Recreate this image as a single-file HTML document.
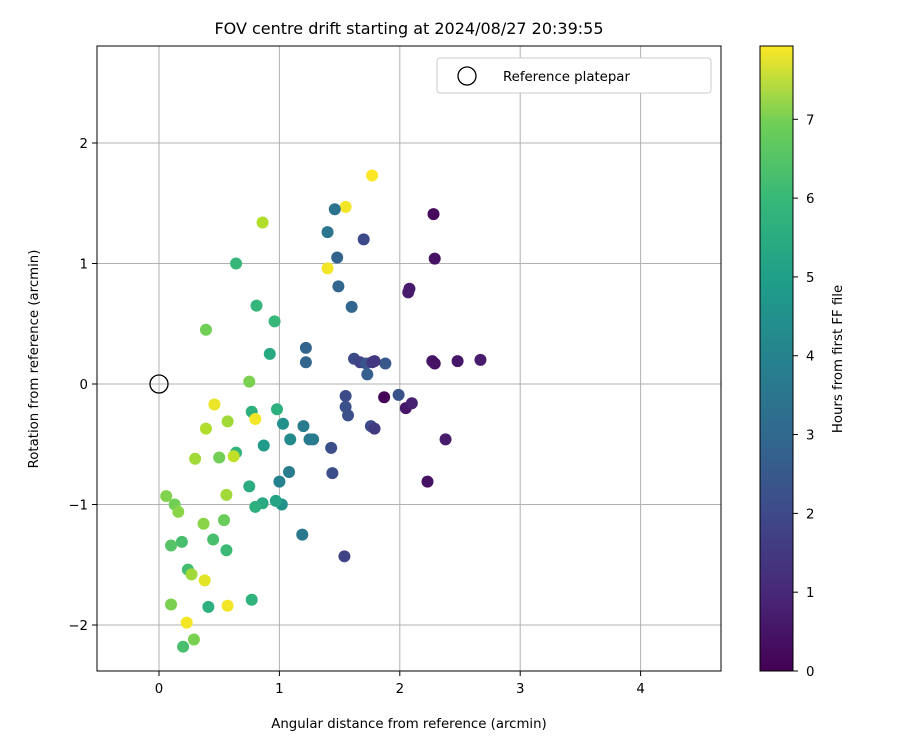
<!DOCTYPE html>
<html><head><meta charset="utf-8"><style>
body{margin:0;background:#fff}
svg{font-family:"DejaVu Sans","Liberation Sans",sans-serif}
</style></head><body>
<svg id="chart" width="900" height="750" xmlns="http://www.w3.org/2000/svg">
<text x="409" y="34" font-size="16" text-anchor="middle">FOV centre drift starting at 2024/08/27 20:39:55</text>
<g id="grid"></g>
<g id="points"></g>
<rect x="97" y="46" width="624" height="625" fill="none" stroke="#000" stroke-width="1"/>
<g id="ticks"></g>
<text x="409" y="728" font-size="13.3" text-anchor="middle">Angular distance from reference (arcmin)</text>
<text transform="translate(38,359) rotate(-90)" font-size="13.3" text-anchor="middle">Rotation from reference (arcmin)</text>
<g>
<rect x="437" y="58" width="274" height="35" rx="3" fill="#fff" stroke="#ccc"/>
<circle cx="467" cy="76" r="9" fill="none" stroke="#000" stroke-width="1.3"/>
<text x="503" y="81" font-size="13.3">Reference platepar</text>
</g>
<defs><linearGradient id="vir" x1="0" y1="1" x2="0" y2="0">
<stop offset="0" stop-color="#440154"/><stop offset="0.125" stop-color="#482878"/><stop offset="0.25" stop-color="#3e4989"/><stop offset="0.375" stop-color="#31688e"/><stop offset="0.5" stop-color="#26828e"/><stop offset="0.625" stop-color="#1f9e89"/><stop offset="0.75" stop-color="#35b779"/><stop offset="0.875" stop-color="#6ece58"/><stop offset="1" stop-color="#fde725"/>
</linearGradient></defs>
<rect x="760" y="46" width="33" height="625" fill="url(#vir)" stroke="#000" stroke-width="1"/>
<g id="cbticks"></g>
<text transform="translate(842,359) rotate(-90)" font-size="13.3" text-anchor="middle">Hours from first FF file</text>
</svg>
<script>
const xTicks=[0,1,2,3,4];
const yTicks=[-2,-1,0,1,2];
const cbTicks=[0,1,2,3,4,5,6,7];
const xs=[0.86,0.64,0.81,0.39,0.96,0.92,0.75,0.46,0.57,0.77,0.80,0.98,0.39,1.03,0.64,0.62,0.50,0.30,0.87,1.09,1.20,1.25,1.28,1.08,1.00,0.75,0.56,0.06,0.86,0.80,1.02,0.97,0.13,0.16,0.37,0.54,0.45,0.19,0.10,0.56,0.24,0.27,0.38,0.10,0.41,0.57,0.77,0.23,0.29,0.20,
1.55,1.77,1.46,1.70,1.40,1.48,1.40,1.49,1.60,1.22,1.22,1.62,1.67,1.72,1.77,1.88,1.73,1.79,2.28,2.29,2.08,2.07,2.27,2.29,2.48,2.67,1.55,1.55,1.57,1.87,1.99,2.05,2.10,1.76,1.79,2.38,1.43,1.44,1.19,2.23,1.54];
const ys=[1.34,1.00,0.65,0.45,0.52,0.25,0.02,-0.17,-0.31,-0.23,-0.29,-0.21,-0.37,-0.33,-0.57,-0.60,-0.61,-0.62,-0.51,-0.46,-0.35,-0.46,-0.46,-0.73,-0.81,-0.85,-0.92,-0.93,-0.99,-1.02,-1.00,-0.97,-1.00,-1.06,-1.16,-1.13,-1.29,-1.31,-1.34,-1.38,-1.54,-1.58,-1.63,-1.83,-1.85,-1.84,-1.79,-1.98,-2.12,-2.18,
1.47,1.73,1.45,1.20,1.26,1.05,0.96,0.81,0.64,0.30,0.18,0.21,0.18,0.17,0.18,0.17,0.08,0.19,1.41,1.04,0.79,0.76,0.19,0.17,0.19,0.20,-0.10,-0.19,-0.26,-0.11,-0.09,-0.20,-0.16,-0.35,-0.37,-0.46,-0.53,-0.74,-1.25,-0.81,-1.43];
const hours=[7.0,5.3,5.2,6.2,5.3,4.8,6.3,7.7,6.8,5.0,7.8,5.0,7.0,4.0,5.2,7.2,6.2,6.8,4.3,3.8,3.3,3.2,3.3,3.3,3.5,4.9,6.8,6.4,4.8,5.0,4.0,4.6,6.2,6.5,6.5,6.1,5.6,5.6,5.8,5.4,5.5,6.8,7.6,6.3,5.0,7.8,5.1,7.8,6.3,5.6,
7.8,7.9,3.0,1.8,3.1,2.5,7.8,2.6,2.6,2.6,2.6,1.8,1.6,2.1,1.4,2.2,2.4,1.3,0.2,0.4,0.6,0.6,0.5,0.4,0.5,0.6,1.8,2.0,2.0,0.1,2.0,0.5,0.7,1.8,1.4,0.6,1.9,1.9,3.2,0.4,1.6];
const hMax=7.93;
const NS="http://www.w3.org/2000/svg";
const X=v=>159+v*120.4, Y=v=>384-v*120.5, CB=v=>671-v*(625/hMax);
const vir=[[68,1,84],[72,40,120],[62,73,137],[49,104,142],[38,130,142],[31,158,137],[53,183,121],[110,206,88],[181,222,43],[253,231,37]];
function cmap(t){t=Math.max(0,Math.min(1,t))*(vir.length-1);const i=Math.min(Math.floor(t),vir.length-2),f=t-i;const c=vir[i].map((a,k)=>Math.round(a+(vir[i+1][k]-a)*f));return `rgb(${c})`;}
function mk(tag,attrs,parent){const e=document.createElementNS(NS,tag);for(const k in attrs)e.setAttribute(k,attrs[k]);parent.appendChild(e);return e;}
const grid=document.getElementById('grid'),ticks=document.getElementById('ticks'),pts=document.getElementById('points'),cbt=document.getElementById('cbticks');
xTicks.forEach(v=>{const x=X(v);
const g=mk('line',{x1:x,x2:x,y1:46,y2:671,stroke:'#b0b0b0','stroke-width':1},grid);


const t=mk('line',{x1:x,x2:x,y1:671,y2:676,stroke:'#000'},ticks);


const l=mk('text',{x:x,y:693,'font-size':13.3,'text-anchor':'middle'},ticks);l.textContent=v;

});
yTicks.forEach(v=>{const y=Y(v);
const g=mk('line',{x1:97,x2:721,y1:y,y2:y,stroke:'#b0b0b0','stroke-width':1},grid);


const t=mk('line',{x1:92,x2:97,y1:y,y2:y,stroke:'#000'},ticks);


const l=mk('text',{x:88,y:y+5,'font-size':13.3,'text-anchor':'end'},ticks);l.textContent=(v<0?'\u2212'+(-v):v);

});
xs.forEach((v,i)=>{const c=mk('circle',{cx:X(v),cy:Y(ys[i]),r:6,fill:cmap(hours[i]/hMax)},pts);

});
const ref=mk('circle',{cx:X(0),cy:Y(0),r:9,fill:'none',stroke:'#000','stroke-width':1.3},pts);


cbTicks.forEach(v=>{const y=CB(v);
const t=mk('line',{x1:793,x2:798,y1:y,y2:y,stroke:'#000'},cbt);


const l=mk('text',{x:806,y:y+5,'font-size':13.3},cbt);l.textContent=v;

});
</script>
</body></html>
